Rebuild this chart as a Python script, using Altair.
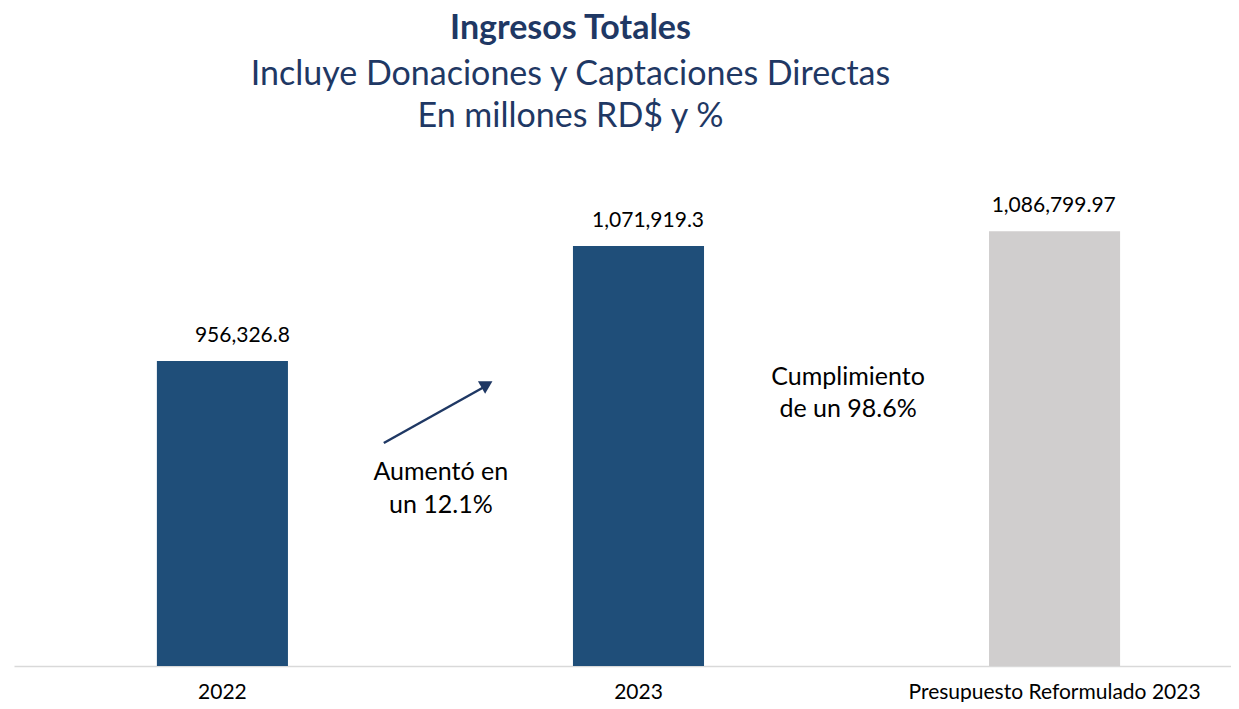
import altair as alt
import pandas as pd

# ---- data ----
categories = ["2022", "2023", "Presupuesto Reformulado 2023"]
values = [956326.8, 1071919.3, 1086799.97]
value_labels = ["956,326.8", "1,071,919.3", "1,086,799.97"]
bar_colors = ["#1f4e79", "#1f4e79", "#d0cece"]

# annotation positions (x in category units, y in data units)
arrow_x = [0.889]
arrow_y = [873995]
arrow_x2 = [1.13]
arrow_y2 = [930244]
head_x = [1.137]
head_y = [932800]
note_x = [1.026, 1.026, 2.005, 2.005]
note_y = [844800, 811600, 940300, 908100]
note_text = ["Aumentó en", "un 12.1%", "Cumplimiento", "de un 98.6%"]

FONT = "Lato"
NAVY = "#1f3864"
Y_MIN, Y_MAX = 650000, 1100000
W, H = 1217, 448
X_UNITS = W / 416.0

df = pd.DataFrame({"cat": categories, "value": values, "label": value_labels, "base": [Y_MIN] * 3})

band_scale = alt.Scale(paddingInner=0.685, paddingOuter=0.305, align=0.563)
x_band = alt.X(
    "cat:N",
    sort=categories,
    scale=band_scale,
    axis=alt.Axis(
        title=None, labelAngle=0, ticks=False, labelFont=FONT, labelFontSize=21,
        labelColor="#000000", labelPadding=15, domainColor="#d9d9d9", domainWidth=1.5,
        grid=False, labelLimit=0,
    ),
)
x_band_noaxis = alt.X("cat:N", sort=categories, scale=band_scale, axis=None)
y_scale = alt.Scale(domain=[Y_MIN, Y_MAX], zero=False, nice=False)

bars = alt.Chart(df).mark_bar(clip=True).encode(
    x=x_band,
    y=alt.Y("value:Q", scale=y_scale, axis=None),
    y2="base:Q",
    color=alt.Color("cat:N", scale=alt.Scale(domain=categories, range=bar_colors), legend=None),
)

labels = alt.Chart(df).mark_text(font=FONT, fontSize=21, color="#000000", dy=-25).encode(
    x=x_band_noaxis,
    y=alt.Y("value:Q", scale=y_scale, axis=None),
    text="label:N",
)

xq = alt.Scale(domain=[0, X_UNITS], nice=False, zero=False)

arrow_df = pd.DataFrame({"x": arrow_x, "y": arrow_y, "x2": arrow_x2, "y2": arrow_y2})
arrow = alt.Chart(arrow_df).mark_rule(color=NAVY, strokeWidth=2.5).encode(
    x=alt.X("x:Q", scale=xq, axis=None),
    y=alt.Y("y:Q", scale=y_scale, axis=None),
    x2="x2:Q",
    y2="y2:Q",
)

head_df = pd.DataFrame({"x": head_x, "y": head_y})
head = alt.Chart(head_df).mark_point(
    shape="triangle-up", filled=True, color=NAVY, size=210, angle=60.5, opacity=1
).encode(
    x=alt.X("x:Q", scale=xq, axis=None),
    y=alt.Y("y:Q", scale=y_scale, axis=None),
)

note_df = pd.DataFrame({"x": note_x, "y": note_y, "t": note_text})
notes = alt.Chart(note_df).mark_text(font=FONT, fontSize=25, color="#000000").encode(
    x=alt.X("x:Q", scale=xq, axis=None),
    y=alt.Y("y:Q", scale=y_scale, axis=None),
    text="t:N",
)

chart = (
    alt.layer(bars, labels, arrow, head, notes)
    .resolve_scale(x="independent")
    .properties(
        width=W,
        height=H,
        view=alt.ViewBackground(stroke="transparent", strokeWidth=0),
        padding={"left": 6, "top": 4, "right": 0, "bottom": 0},
        title=alt.TitleParams(
            text="Ingresos Totales",
            subtitle=["Incluye Donaciones y Captaciones Directas", "En millones RD$ y %"],
            anchor="middle",
            dx=-52,
            font=FONT,
            fontSize=34,
            fontWeight="bold",
            color=NAVY,
            subtitleFont=FONT,
            subtitleFontSize=34,
            subtitleColor=NAVY,
            subtitleLineHeight=42,
            subtitlePadding=12,
            offset=61,
        ),
    )
    .configure_view(stroke="transparent", strokeWidth=0)
    .configure(background="white")
)

chart.save("out.html", embed_options={"renderer": "svg", "actions": False})
